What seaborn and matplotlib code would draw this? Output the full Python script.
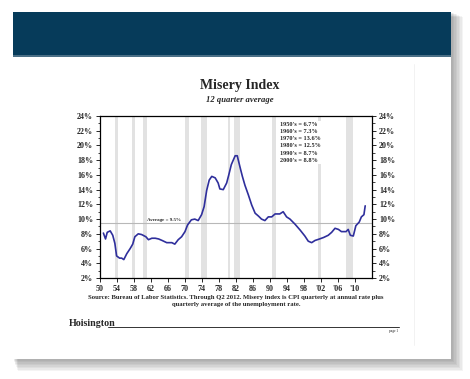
import numpy as np
import pandas as pd
import matplotlib
matplotlib.use("Agg")
import matplotlib.pyplot as plt
import seaborn as sns
from matplotlib.patches import Rectangle
from matplotlib.lines import Line2D

# misery index, 12 quarter average
years = [1950.8, 1951.3, 1951.7, 1952.4, 1953.0, 1953.5, 1953.9, 1954.6, 1955.1, 1955.6,
         1956.3, 1957.1, 1957.7, 1958.2, 1959.0, 1959.8, 1960.8, 1961.4, 1962.2, 1963.0,
         1963.8, 1964.6, 1965.7, 1966.9, 1967.6, 1968.4, 1969.2, 1970.0, 1970.6, 1971.5,
         1972.3, 1973.1, 1973.9, 1974.5, 1975.1, 1975.7, 1976.3, 1977.1, 1977.8, 1978.2,
         1979.0, 1979.8, 1980.3, 1980.9, 1981.8, 1982.3, 1982.5, 1983.1, 1983.5, 1984.1,
         1984.9, 1985.7, 1986.5, 1987.3, 1988.0, 1988.8, 1989.6, 1990.4, 1991.2, 1992.3,
         1993.1, 1993.9, 1994.7, 1995.9, 1997.1, 1998.2, 1999.0, 1999.8, 2000.6, 2001.4,
         2002.6, 2003.7, 2004.5, 2005.3, 2006.1, 2006.8, 2007.9, 2008.4, 2008.9, 2009.6,
         2010.2, 2011.0, 2011.5, 2012.1, 2012.4]
misery = [8.1, 7.3, 8.2, 8.4, 7.8, 6.7, 5.0, 4.7, 4.7, 4.5,
          5.3, 6.0, 6.6, 7.6, 8.0, 7.9, 7.6, 7.2, 7.4, 7.4,
          7.3, 7.1, 6.8, 6.8, 6.6, 7.2, 7.6, 8.3, 9.2, 9.9,
          10.0, 9.8, 10.6, 11.7, 13.9, 15.3, 15.8, 15.6, 14.9, 14.1,
          14.0, 14.9, 16.0, 17.4, 18.6, 18.6, 18.1, 16.7, 15.8, 14.6,
          13.3, 11.9, 10.8, 10.4, 10.0, 9.8, 10.3, 10.3, 10.7, 10.7,
          11.0, 10.3, 10.0, 9.3, 8.5, 7.7, 7.0, 6.8, 7.1, 7.25,
          7.5, 7.8, 8.2, 8.75, 8.6, 8.3, 8.3, 8.6, 7.8, 7.7,
          9.1, 9.6, 10.3, 10.6, 11.8]

# recessions (start, end)
rec_start = [1953.5, 1957.6, 1960.2, 1969.9, 1973.8, 1980.0, 1981.5, 1990.5, 2001.2, 2007.9]
rec_end = [1954.3, 1958.3, 1961.1, 1970.9, 1975.2, 1980.6, 1982.9, 1991.3, 2002.0, 2009.5]

average = 9.5
decades = ["1950's = 6.7%", "1960's = 7.3%", "1970's = 13.6%",
           "1980's = 12.5%", "1990's = 8.7%", "2000's = 8.8%"]

xticks = list(range(1950, 2011, 4))
xlabels = ["50", "54", "58", "62", "66", "70", "74", "78", "82", "86", "90", "94", "98",
           "'02", "'06", "'10"]
yticks = list(range(2, 25, 2))

df = pd.DataFrame({"year": years, "misery": misery})

sns.set_style("ticks")
plt.rcParams['font.family'] = ['Liberation Serif', 'DejaVu Serif']
plt.rcParams['font.weight'] = 'bold'

W, H = 470, 379
fig = plt.figure(figsize=(4.7, 3.79), dpi=100)
fig.patch.set_facecolor("white")


def box(x0, y0, x1, y1, **kw):
    # rectangle in pixel coords (top-left origin)
    fig.patches.append(Rectangle((x0 / W, 1 - y1 / H), (x1 - x0) / W, (y1 - y0) / H,
                                 transform=fig.transFigure, **kw))


# slide shadow, soft
for d in np.arange(12, 0, -1.5):
    box(13 + d * 0.4, 12 + d * 0.4, 451 + d, 359 + d, facecolor="black", alpha=0.045, linewidth=0, zorder=0)
box(13, 12, 451, 359, facecolor="white", linewidth=0, zorder=1)
box(13, 12, 451, 56, facecolor="#063b5a", linewidth=0, zorder=2)
box(13, 55.5, 451, 56.5, facecolor="#4a6f86", linewidth=0, zorder=2)
fig.lines.append(Line2D([414 / W, 414 / W], [1 - 64 / H, 1 - 345 / H], transform=fig.transFigure,
                        color="#f0f0f0", linewidth=0.6, zorder=2))

ax = fig.add_axes([100 / W, 1 - 278 / H, 272 / W, 162 / H], zorder=3)
ax.set_facecolor("white")

for s, e in zip(rec_start, rec_end):
    ax.axvspan(s, e, color="#e2e2e2", linewidth=0, zorder=0)

ax.axhline(average, color="#b8b8b8", linewidth=0.8, zorder=1)
ax.text(1965, average + 0.15, "Average = 9.5%", fontsize=3.6, ha="center", va="bottom", zorder=2)

sns.lineplot(data=df, x="year", y="misery", ax=ax, color="#2f2f9c", linewidth=1.2, zorder=3)

ax.text(1992.4, 23.2, "\n".join(decades), fontsize=4.5, va="top", ha="left", linespacing=1.55,
        zorder=4, bbox=dict(facecolor="white", edgecolor="none", pad=1))

ax.set_xlim(1950, 2014)
ax.set_ylim(2, 24)
ax.set_xticks(xticks)
ax.set_xticklabels(xlabels)
ax.set_yticks(yticks)
ax.set_yticklabels([f"{t}%" for t in yticks])
ax.set_yticks(range(3, 24, 2), minor=True)
ax.tick_params(axis="both", labelsize=5.8, length=3, width=0.7, pad=2)
ax.tick_params(axis="y", which="minor", length=1.8, width=0.6)
ax.tick_params(axis="y", which="both", right=True, labelright=True)
ax.set_xlabel("")
ax.set_ylabel("")
for sp in ax.spines.values():
    sp.set_visible(True)
    sp.set_linewidth(0.9)
    sp.set_color("black")

fig.text(240 / W, 1 - 86 / H, "Misery Index", fontsize=10, ha="center", va="center", zorder=4)
fig.text(240 / W, 1 - 100 / H, "12 quarter average", fontsize=6.2, style="italic",
         ha="center", va="center", zorder=4)
fig.text(236 / W, 1 - 301 / H,
         "Source: Bureau of Labor Statistics. Through Q2 2012. Misery index is CPI quarterly at annual rate plus\n"
         "quarterly average of the unemployment rate.",
         fontsize=4.75, ha="center", va="center", linespacing=1.3, zorder=4)

fig.text(69 / W, 1 - 324 / H, "Hoisington", fontsize=7.2, ha="left", va="center", zorder=4)
fig.lines.append(Line2D([108 / W, 399 / W], [1 - 327 / H, 1 - 327 / H], transform=fig.transFigure,
                        color="#333333", linewidth=0.7, zorder=4))
fig.text(398 / W, 1 - 331 / H, "page 1", fontsize=2.5, weight="normal", ha="right", va="center", zorder=4)

fig.savefig("out.png", dpi=100)
